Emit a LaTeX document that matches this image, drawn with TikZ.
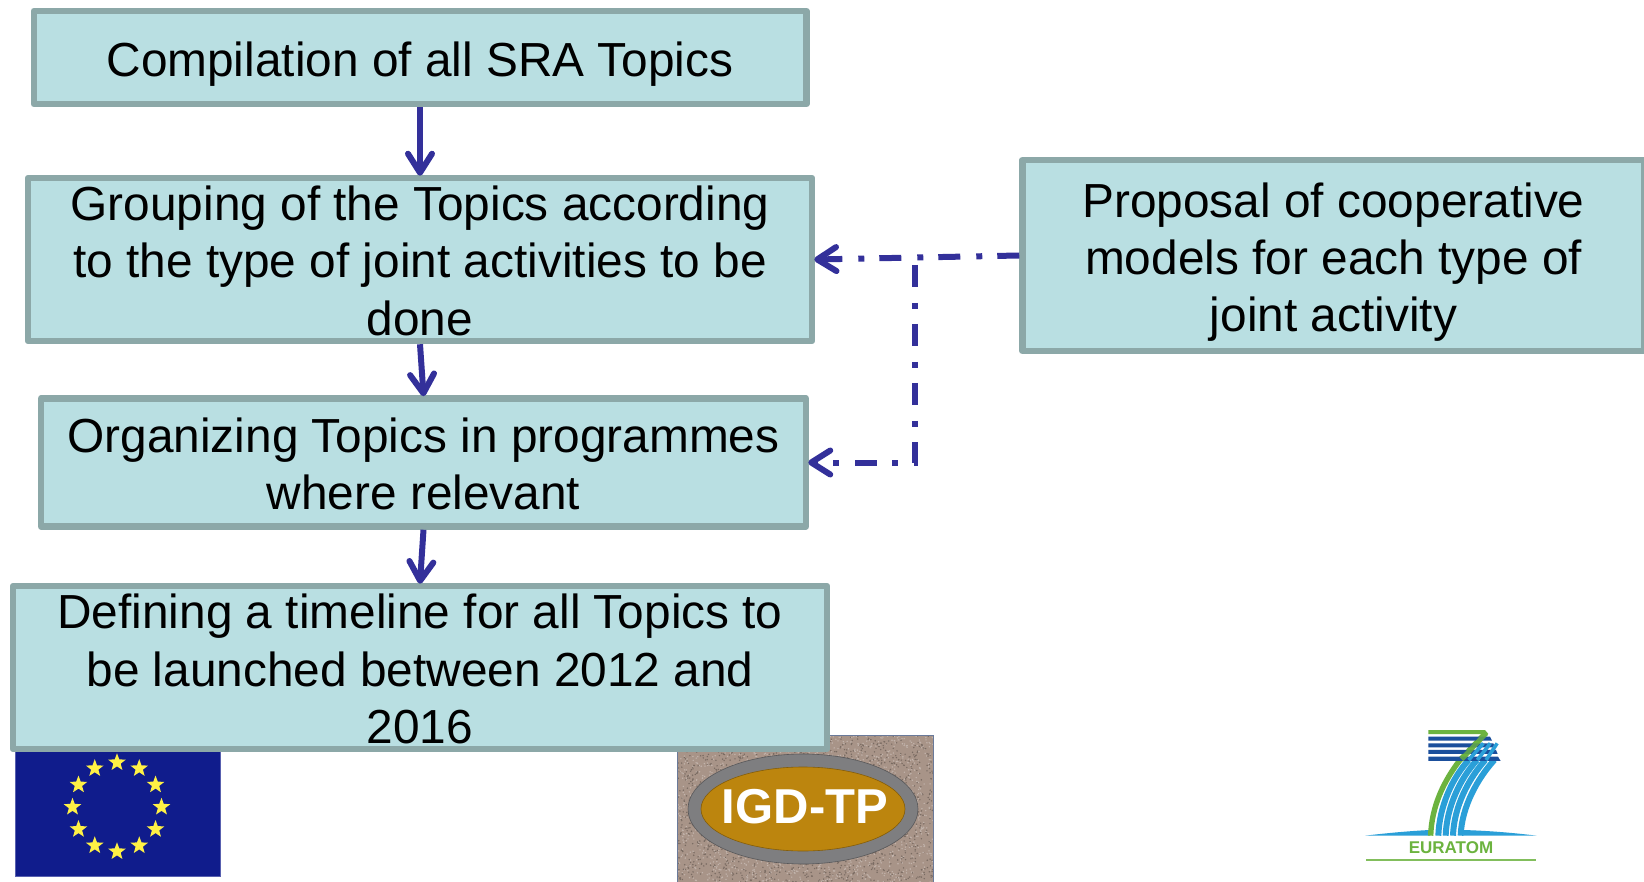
\documentclass[tikz,border=0pt]{standalone}
\usepackage{fontspec}
\setmainfont{Liberation Sans}
\usetikzlibrary{arrows.meta,shapes.geometric,calc}
\definecolor{boxfill}{HTML}{B9DFE2}
\definecolor{boxline}{HTML}{8CA8A8}
\definecolor{arrowc}{HTML}{33309A}
\definecolor{flagblue}{HTML}{101C8C}
\definecolor{starc}{HTML}{FFF145}
\definecolor{sandc}{HTML}{A89488}
\definecolor{ringc}{HTML}{7E7E80}
\definecolor{goldc}{HTML}{BC850E}
\definecolor{logogreen}{HTML}{6CB33F}
\definecolor{logodark}{HTML}{1B4F9C}
\definecolor{logolight}{HTML}{2A9FD8}
\definecolor{igdedge}{HTML}{6A7A9A}
\newcommand{\lift}[1]{\rule{0pt}{#1pt}}
\tikzset{
  x=1pt,y=-1pt,
  topicbox/.style={draw=boxline,fill=boxfill,line width=6.5pt,line join=round,rectangle,
    inner sep=0pt,outer sep=3.25pt,align=center,font=\fontsize{47.8}{57.4}\selectfont,text=black},
  flowarrow/.style={draw=arrowc,line width=6pt,-{Straight Barb[length=19pt,width=24pt,round,line width=6pt]},shorten >=-1pt},
  mainarrow/.style={flowarrow},
  dashline/.style={flowarrow,dash pattern=on 22pt off 15pt on 6pt off 16pt},
  dashlineb/.style={flowarrow,dash pattern=on 22pt off 16pt on 6pt off 15pt},
  flagstar/.style={star,star points=5,star point ratio=2.4,fill=starc,minimum size=18.5pt,inner sep=0pt,draw=none},
}
\begin{document}
\begin{tikzpicture}
\useasboundingbox (0,0) rectangle (1644,882);
\fill[white] (0,0) rectangle (1644,882);
% EU flag
\fill[flagblue,draw=flagblue!70!white,line width=.6pt] (15,740) rectangle (220,876);
\coordinate (flagc) at (117,807);
\foreach \a in {0,30,...,330}{
  \node[flagstar] at ($(flagc)+(\a:44.5pt)$) {};
}
% IGD-TP logo
\begin{scope}
\clip (677,735) rectangle (933,882);
\fill[sandc] (677,735) rectangle (933,882);
\pgfmathsetseed{7}
\foreach \i in {1,...,1800}{
  \pgfmathsetmacro{\px}{677+256*rnd}
  \pgfmathsetmacro{\py}{735+147*rnd}
  \fill[black!28!sandc] (\px,\py) circle (.8pt);
  \pgfmathsetmacro{\qx}{677+256*rnd}
  \pgfmathsetmacro{\qy}{735+147*rnd}
  \fill[white!30!sandc] (\qx,\qy) circle (.8pt);
}
\end{scope}
\draw[draw=igdedge,line width=1pt] (677,882) -- (677,735) -- (933,735) -- (933,882);
\fill[ringc,draw=ringc!70!black,line width=.6pt] (803,809) ellipse (115pt and 55pt);
\fill[goldc,draw=goldc!70!black,line width=.6pt] (803,809) ellipse (102pt and 42pt);
\node[text=white,inner sep=0pt,font=\fontsize{49}{49}\selectfont\bfseries] (igd) at (805,807) {IGD-TP};
% FP7 logo
\begin{scope}[shift={(1340,710)},x=.3333pt,y=-.3333pt]
 \path[fill=logolight] (75,377) .. controls (170,366) and (230,362) .. (270,360) -- (270,377) -- cycle;
 \path[fill=logolight] (590,377) .. controls (500,366) and (430,362) .. (370,360) -- (370,377) -- cycle;
 \draw[logogreen,line width=5.4pt] (438,68) -- (360,150) .. controls (310,215) and (275,290) .. (272,377);
 \foreach \tx/\bx in {386/295,411/317,436/339,463/362}{
   \draw[logolight,line width=6pt] (\tx,150) .. controls (\tx-50,205) and (\bx+3,290) .. (\bx,377);
 }
 \fill[logogreen] (265,60) -- (435,60) -- (445,72) -- (265,72) -- cycle;
 \fill[logodark] (265,80) -- (450,80) -- (456,92) -- (265,92) -- cycle;
 \fill[logodark] (265,100) -- (460,100) -- (465,112) -- (265,112) -- cycle;
 \fill[logodark] (265,120) -- (468,120) -- (473,132) -- (265,132) -- cycle;
 \fill[logodark] (265,140) -- (474,140) -- (482,153) -- (265,153) -- cycle;
 \draw[logogreen,line width=5pt,opacity=.8] (438,70) -- (365,148);
 \foreach \o in {0,26,52}{
   \draw[logolight,line width=3.6pt] (430+\o*.8,100) -- (386+\o,150);
 }
 \node[text=logogreen,inner sep=0pt,font=\fontsize{17}{17}\selectfont\bfseries] (euratom) at (333,414) {EURATOM};
 \draw[logogreen!85!white,line width=1.6pt] (78,450) -- (587,450);
\end{scope}
% Boxes
\node[topicbox,minimum width=772.5pt,minimum height=93pt] (b1) at (420,57.5) {\lift{48}Compilation of all SRA Topics};
\node[topicbox,minimum width=784pt,minimum height=163pt] (b2) at (420,259.5) {\lift{37}Grouping of the Topics according\\to the type of joint activities to be\\done};
\node[topicbox,minimum width=765pt,minimum height=128pt] (b3) at (423.5,462.5) {\lift{38}Organizing Topics in programmes\\where relevant};
\node[topicbox,minimum width=814pt,minimum height=163pt] (b4) at (420,667.5) {\lift{38}Defining a timeline for all Topics to\\be launched between 2012 and\\2016};
\node[topicbox,minimum width=622pt,minimum height=191pt] (b5) at (1333.5,255.5) {\lift{48}Proposal of cooperative\\models for each type of\\joint activity};
% Connectors
\draw[mainarrow] (b1.south) -- (b2.north);
\draw[mainarrow] (b2.south) -- (b3.north);
\draw[mainarrow] (b3.south) -- (b4.north);
\coordinate (jtop) at (915,265);
\draw[dashline] (b5.west) -- (b2.east);
\draw[dashlineb] (jtop) |- (b3.east);
\end{tikzpicture}
\end{document}
